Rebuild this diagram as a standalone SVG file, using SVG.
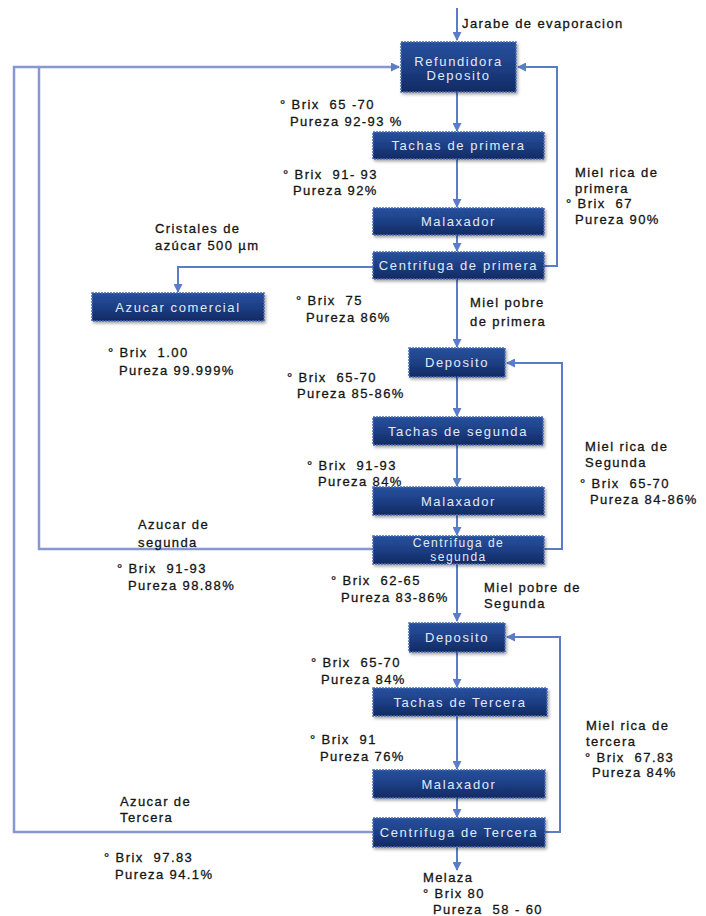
<svg xmlns="http://www.w3.org/2000/svg" width="706" height="916" viewBox="0 0 706 916">
<defs>
<linearGradient id="ng" x1="0" y1="0" x2="0" y2="1">
<stop offset="0" stop-color="#27509c"/>
<stop offset="0.5" stop-color="#1d3f85"/>
<stop offset="1" stop-color="#112a62"/>
</linearGradient>
<filter id="sh" x="-10%" y="-20%" width="125%" height="150%">
<feDropShadow dx="1.5" dy="2" stdDeviation="1.5" flood-color="#000" flood-opacity="0.35"/>
</filter>
<marker id="ah" markerWidth="9" markerHeight="9" refX="8" refY="4.5" orient="auto" markerUnits="userSpaceOnUse">
<path d="M0,0 L9,4.5 L0,9 Z" fill="#5b7cc6"/>
</marker>
</defs>
<style>
.n rect{fill:url(#ng);stroke:#4a6cb3;stroke-width:1.5;stroke-dasharray:2 1;filter:url(#sh)}
.n text{font-family:"Liberation Sans",Arial,sans-serif;font-size:13px;letter-spacing:1.6px;fill:#e2eaf8;text-anchor:middle}
.n text.s{font-size:12px;letter-spacing:1.5px}
.t{font-family:"Liberation Sans",Arial,sans-serif;font-size:13px;letter-spacing:1.4px;fill:#141414;stroke:#141414;stroke-width:0.3;white-space:pre}
.c{fill:none;stroke:#5b7cc6;stroke-width:2}
.o{fill:none;stroke:#8797cf;stroke-width:2.5}
</style>
<rect width="706" height="916" fill="#ffffff"/>

<g id="connectors">
<path class="o" d="M373,832 H14 V67 H399" marker-end="url(#ah)"/>
<path class="o" d="M373,549 H39 V67"/>
<path class="c" d="M457,8 V40" marker-end="url(#ah)"/>
<path class="c" d="M457,92 V131" marker-end="url(#ah)"/>
<path class="c" d="M457,159 V207" marker-end="url(#ah)"/>
<path class="c" d="M457,235 V251" marker-end="url(#ah)"/>
<path class="c" d="M544,266 H557 V67 H518" marker-end="url(#ah)"/>
<path class="c" d="M373,267 H178 V292" marker-end="url(#ah)"/>
<path class="c" d="M457,279 V347" marker-end="url(#ah)"/>
<path class="c" d="M457,377 V416" marker-end="url(#ah)"/>
<path class="c" d="M457,445 V486" marker-end="url(#ah)"/>
<path class="c" d="M457,515 V535" marker-end="url(#ah)"/>
<path class="c" d="M544,549 H562 V363 H507" marker-end="url(#ah)"/>
<path class="c" d="M457,564 V621" marker-end="url(#ah)"/>
<path class="c" d="M457,652 V687" marker-end="url(#ah)"/>
<path class="c" d="M457,716 V769" marker-end="url(#ah)"/>
<path class="c" d="M457,798 V817" marker-end="url(#ah)"/>
<path class="c" d="M545,832 H560 V637 H507" marker-end="url(#ah)"/>
<path class="c" d="M457,847 V870" marker-end="url(#ah)"/>
</g>

<g id="refundidora" class="n"><rect x="401" y="42" width="115" height="50"/><text x="458.5" y="66">Refundidora</text><text x="458.5" y="80">Deposito</text></g>
<g id="tachas1" class="n"><rect x="373" y="132" width="171" height="27"/><text x="458.5" y="150">Tachas de primera</text></g>
<g id="malaxador1" class="n"><rect x="373" y="208" width="171" height="27"/><text x="458.5" y="226">Malaxador</text></g>
<g id="centrifuga1" class="n"><rect x="373" y="252" width="171" height="27"/><text x="458.5" y="270">Centrifuga de primera</text></g>
<g id="azucar-comercial" class="n"><rect x="92" y="293" width="172" height="28"/><text x="178" y="312">Azucar comercial</text></g>
<g id="deposito2" class="n"><rect x="409" y="348" width="96" height="29"/><text x="457" y="367">Deposito</text></g>
<g id="tachas2" class="n"><rect x="373" y="417" width="170" height="28"/><text x="458" y="436">Tachas de segunda</text></g>
<g id="malaxador2" class="n"><rect x="373" y="487" width="171" height="28"/><text x="458.5" y="506">Malaxador</text></g>
<g id="centrifuga2" class="n"><rect x="373" y="536" width="171" height="28"/><text class="s" x="458.5" y="547">Centrifuga de</text><text class="s" x="458.5" y="561">segunda</text></g>
<g id="deposito3" class="n"><rect x="409" y="623" width="96" height="29"/><text x="457" y="642">Deposito</text></g>
<g id="tachas3" class="n"><rect x="373" y="688" width="174" height="28"/><text x="460" y="707">Tachas de Tercera</text></g>
<g id="malaxador3" class="n"><rect x="373" y="770" width="172" height="28"/><text x="459" y="789">Malaxador</text></g>
<g id="centrifuga3" class="n"><rect x="373" y="818" width="172" height="29"/><text x="459" y="837">Centrifuga de Tercera</text></g>

<g id="labels">
<text class="t" x="462" y="28">Jarabe de evaporacion</text>
<text class="t" x="280" y="109">° Brix  65 -70</text>
<text class="t" x="290" y="126">Pureza 92-93 %</text>
<text class="t" x="283" y="179">° Brix  91- 93</text>
<text class="t" x="293" y="195">Pureza 92%</text>
<text class="t" x="575" y="177">Miel rica de</text>
<text class="t" x="575" y="193">primera</text>
<text class="t" x="566" y="208">° Brix  67</text>
<text class="t" x="575" y="224">Pureza 90%</text>
<text class="t" x="155" y="233">Cristales de</text>
<text class="t" x="155" y="250">azúcar 500 µm</text>
<text class="t" x="296" y="305">° Brix  75</text>
<text class="t" x="306" y="322">Pureza 86%</text>
<text class="t" x="470" y="307">Miel pobre</text>
<text class="t" x="470" y="326">de primera</text>
<text class="t" x="108" y="357">° Brix  1.00</text>
<text class="t" x="119" y="375">Pureza 99.999%</text>
<text class="t" x="287" y="382">° Brix  65-70</text>
<text class="t" x="297" y="398">Pureza 85-86%</text>
<text class="t" x="585" y="451">Miel rica de</text>
<text class="t" x="585" y="467">Segunda</text>
<text class="t" x="580" y="488">° Brix  65-70</text>
<text class="t" x="590" y="504">Pureza 84-86%</text>
<text class="t" x="307" y="470">° Brix  91-93</text>
<text class="t" x="318" y="486">Pureza 84%</text>
<text class="t" x="138" y="529">Azucar de</text>
<text class="t" x="138" y="547">segunda</text>
<text class="t" x="117" y="573">° Brix  91-93</text>
<text class="t" x="128" y="590">Pureza 98.88%</text>
<text class="t" x="331" y="585">° Brix  62-65</text>
<text class="t" x="341" y="602">Pureza 83-86%</text>
<text class="t" x="484" y="592">Miel pobre de</text>
<text class="t" x="484" y="608">Segunda</text>
<text class="t" x="311" y="667">° Brix  65-70</text>
<text class="t" x="321" y="684">Pureza 84%</text>
<text class="t" x="310" y="744">° Brix  91</text>
<text class="t" x="320" y="761">Pureza 76%</text>
<text class="t" x="586" y="730">Miel rica de</text>
<text class="t" x="586" y="746">tercera</text>
<text class="t" x="585" y="762">° Brix  67.83</text>
<text class="t" x="592" y="777">Pureza 84%</text>
<text class="t" x="120" y="806">Azucar de</text>
<text class="t" x="120" y="822">Tercera</text>
<text class="t" x="104" y="862">° Brix  97.83</text>
<text class="t" x="115" y="879">Pureza 94.1%</text>
<text class="t" x="423" y="882">Melaza</text>
<text class="t" x="423" y="898">° Brix 80</text>
<text class="t" x="433" y="914">Pureza  58 - 60</text>
</g>
</svg>
